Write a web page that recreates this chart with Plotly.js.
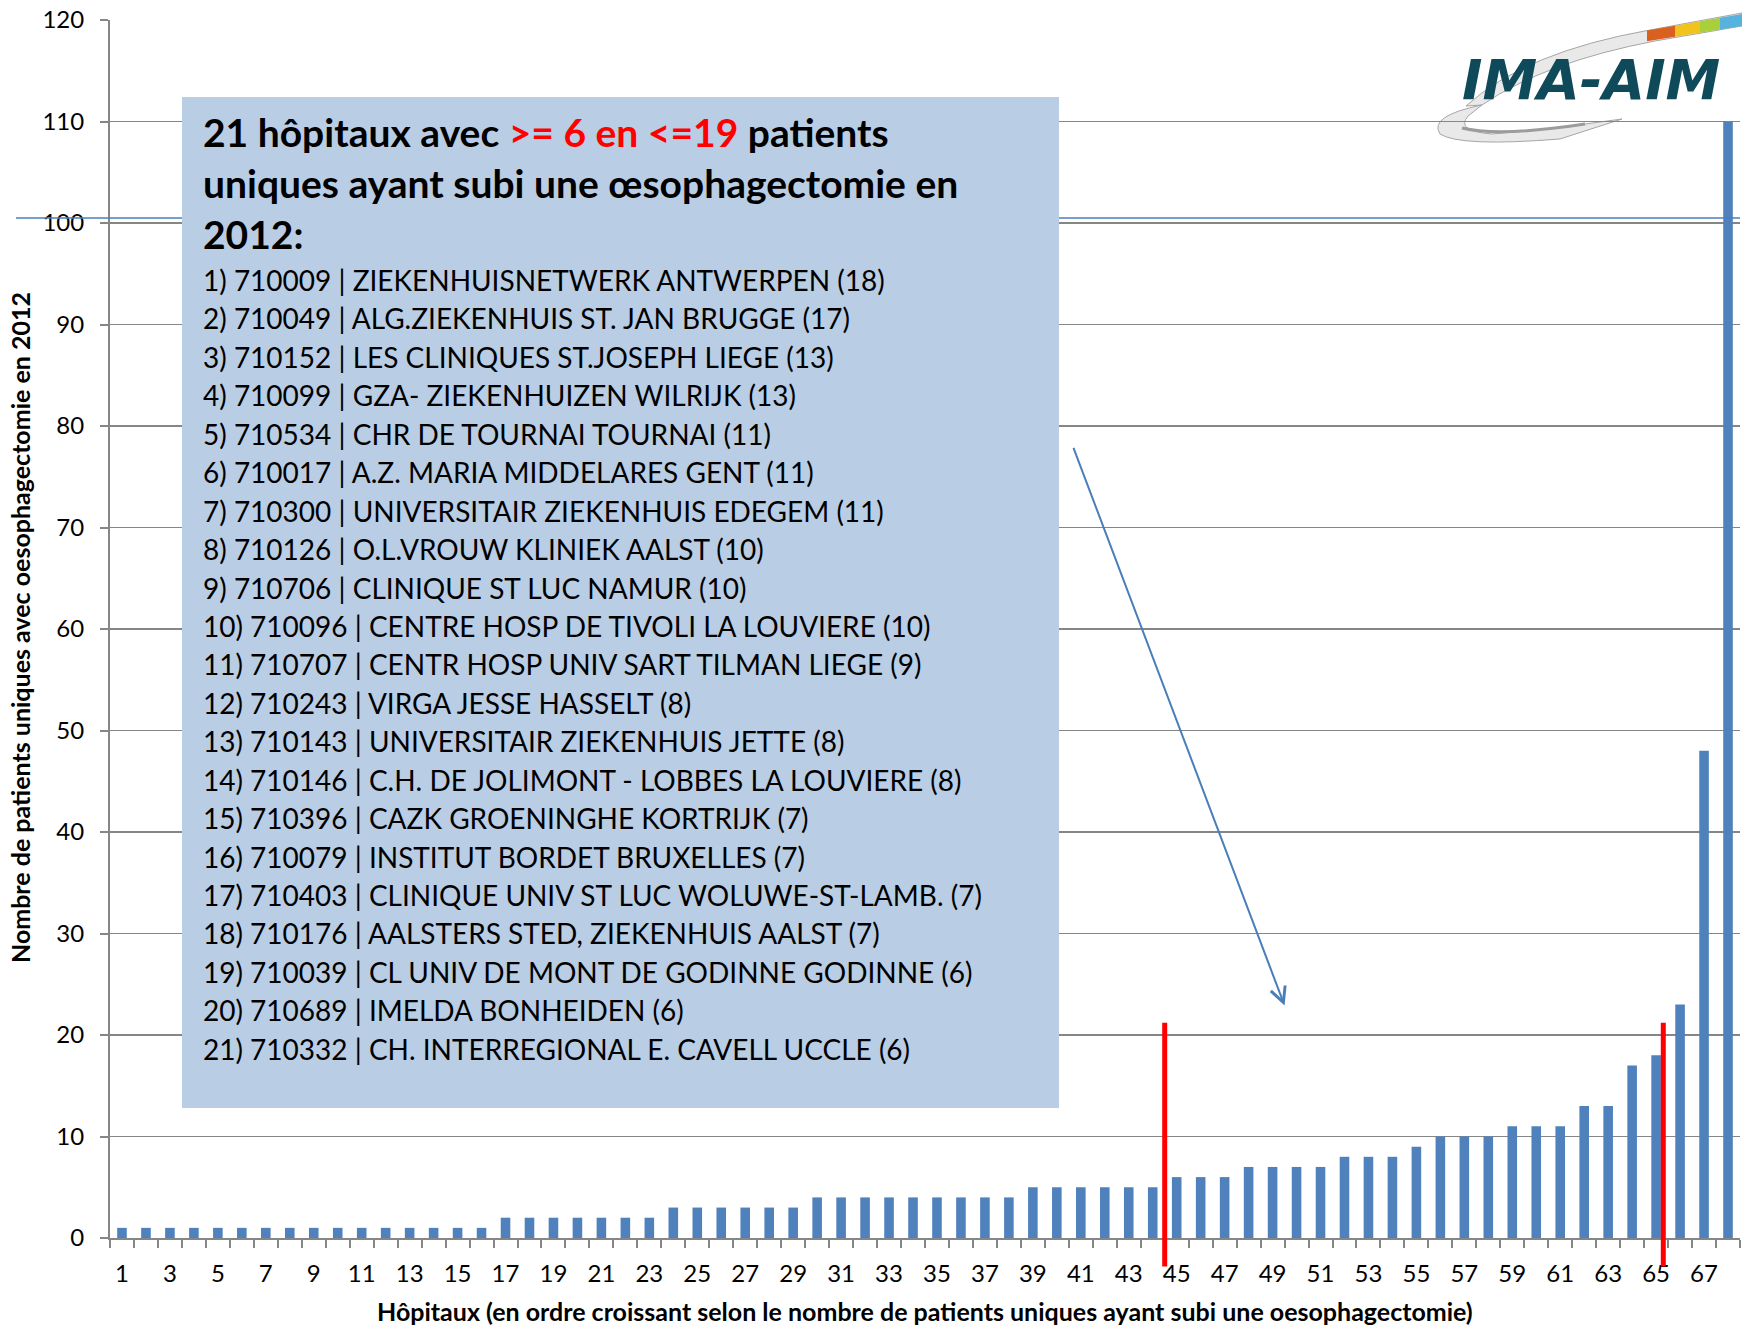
<!DOCTYPE html>
<html>
<head>
<meta charset="utf-8">
<script src="https://cdn.plot.ly/plotly-3.0.1.min.js"></script>
<style>
  html, body { margin: 0; padding: 0; background: #ffffff; }
  #chart { width: 1742px; height: 1325px; }
</style>
</head>
<body>
<div id="chart"></div>
<script>
// ---------------- DATA ----------------
const hospitals = [1,2,3,4,5,6,7,8,9,10,11,12,13,14,15,16,17,18,19,20,21,22,23,24,25,26,27,28,29,30,31,32,33,34,35,36,37,38,39,40,41,42,43,44,45,46,47,48,49,50,51,52,53,54,55,56,57,58,59,60,61,62,63,64,65,66,67,68];
const patients = [1,1,1,1,1,1,1,1,1,1,1,1,1,1,1,1,
                  2,2,2,2,2,2,2,
                  3,3,3,3,3,3,
                  4,4,4,4,4,4,4,4,4,
                  5,5,5,5,5,5,
                  6,6,6,
                  7,7,7,7,
                  8,8,8,
                  9,
                  10,10,10,
                  11,11,11,
                  13,13,
                  17,18,23,48,110];
const xTickVals = [1,3,5,7,9,11,13,15,17,19,21,23,25,27,29,31,33,35,37,39,41,43,45,47,49,51,53,55,57,59,61,63,65,67];
const xTickText = ["1","3","5","7","9","11","13","15","17","19","21","23","25","27","29","31","33","35","37","39","41","43","45","47","49","51","53","55","57","59","61","63","65","67"];

const listCodes = ["710009","710049","710152","710099","710534","710017","710300","710126","710706","710096","710707","710243","710143","710146","710396","710079","710403","710176","710039","710689","710332"];
const listNames = ["ZIEKENHUISNETWERK ANTWERPEN","ALG.ZIEKENHUIS ST. JAN BRUGGE","LES CLINIQUES ST.JOSEPH LIEGE","GZA- ZIEKENHUIZEN WILRIJK","CHR DE TOURNAI TOURNAI","A.Z. MARIA MIDDELARES GENT","UNIVERSITAIR ZIEKENHUIS EDEGEM","O.L.VROUW KLINIEK AALST","CLINIQUE ST LUC NAMUR","CENTRE HOSP DE TIVOLI LA LOUVIERE","CENTR HOSP UNIV SART TILMAN LIEGE","VIRGA JESSE HASSELT","UNIVERSITAIR ZIEKENHUIS JETTE","C.H. DE JOLIMONT - LOBBES LA LOUVIERE","CAZK GROENINGHE KORTRIJK","INSTITUT BORDET BRUXELLES","CLINIQUE UNIV ST LUC WOLUWE-ST-LAMB.","AALSTERS STED, ZIEKENHUIS AALST","CL UNIV DE MONT DE GODINNE GODINNE","IMELDA BONHEIDEN","CH. INTERREGIONAL E. CAVELL UCCLE"];
const listCounts = [18,17,13,13,11,11,11,10,10,10,9,8,8,8,7,7,7,7,6,6,6];

const boxTitleLines = [
  '21 hôpitaux avec <span style="color:#ff0000">&gt;= 6 en &lt;=19</span> patients',
  'uniques ayant subi une œsophagectomie en',
  '2012:'
];
const xTitle = 'Hôpitaux (en ordre croissant selon le nombre de patients uniques ayant subi une oesophagectomie)';
const yTitle = 'Nombre de patients uniques avec oesophagectomie en 2012';
const logoText = 'IMA-AIM';

// ---------------- LAYOUT HELPERS ----------------
const W = 1742, H = 1325;
const PL = 110, PR = 1740, PT = 20, PB = 1238;
const YMAX = 120;
const px = x => (x - PL) / (PR - PL);
const py = y => (PB - y) / (PB - PT);
const yv = v => v / YMAX;
function path(cmds) {
  return cmds.map(c => {
    const op = c[0];
    const pts = [];
    for (let i = 1; i < c.length; i += 2) pts.push(px(c[i]).toFixed(5) + ',' + py(c[i + 1]).toFixed(5));
    return op + pts.join(' ');
  }).join(' ');
}

const FONT = 'Lato, "Open Sans", sans-serif';
const GRID = '#868686';

// ---------------- TRACE ----------------
const traces = [{
  type: 'bar',
  x: hospitals,
  y: patients,
  marker: { color: '#4f81bd', line: { width: 0 } },
  hoverinfo: 'skip'
}];

// ---------------- SHAPES ----------------
const shapes = [];
// logo swoosh (behind gridlines)
shapes.push({
  type: 'path', xref: 'paper', yref: 'paper', layer: 'below',
  path: path([['M',1466,106],['Q',1525,52,1650,30],['L',1742,13],['L',1742,26],['L',1655,41],['Q',1545,62,1482,105],['Z']]),
  fillcolor: '#e9e9e9', line: { color: '#a6a6a6', width: 1 }
});
shapes.push({
  type: 'path', xref: 'paper', yref: 'paper', layer: 'below',
  path: path([['M',1482,105],['Q',1428,116,1440,134],['Q',1460,147,1560,139],['L',1622,119],['Q',1545,130,1492,134],['Q',1455,131,1468,116],['Z']]),
  fillcolor: '#e9e9e9', line: { color: '#a6a6a6', width: 1 }
});
shapes.push({
  type: 'path', xref: 'paper', yref: 'paper', layer: 'below',
  path: path([['M',1462,128],['Q',1500,137,1585,124]]),
  line: { color: '#9c9c9c', width: 3 }
});
const rainbow = [
  [1647,30.5,41.3, 1675,25.7,36.8, '#d9601f'],
  [1675,25.7,36.8, 1700,21.3,32.8, '#f2c21d'],
  [1700,21.3,32.8, 1720,17.8,29.5, '#a9cf3a'],
  [1720,17.8,29.5, 1742,14.0,26.0, '#56b3dd']
];
rainbow.forEach(r => shapes.push({
  type: 'path', xref: 'paper', yref: 'paper', layer: 'below',
  path: path([['M',r[0],r[1]],['L',r[3],r[4]],['L',r[3],r[5]],['L',r[0],r[2]],['Z']]),
  fillcolor: r[6], line: { width: 0 }
}));
// blue horizontal line near 100
shapes.push({
  type: 'line', xref: 'paper', yref: 'y', layer: 'above',
  x0: px(16), x1: 1, y0: 100.5, y1: 100.5,
  line: { color: '#4a7ebb', width: 1.5 }
});
// text box
shapes.push({
  type: 'rect', xref: 'paper', yref: 'paper', layer: 'above',
  x0: px(182), x1: px(1059), y0: py(1108), y1: py(97),
  fillcolor: '#b9cde5', line: { width: 0 }
});
// red separator lines
[44.5, 65.3].forEach(xc => shapes.push({
  type: 'line', xref: 'x', yref: 'paper', layer: 'above',
  x0: xc, x1: xc, y0: yv(-2.8), y1: yv(21.2),
  line: { color: '#ff0000', width: 5 }
}));

// ---------------- ANNOTATIONS ----------------
const annotations = [];
const titleY = [132, 183.5, 234.5];
boxTitleLines.forEach((t, i) => annotations.push({
  xref: 'paper', yref: 'paper', x: px(201), y: py(titleY[i]),
  xanchor: 'left', yanchor: 'middle', showarrow: false, align: 'left',
  text: '<b>' + t + '</b>',
  font: { family: FONT, size: 39, color: '#000000' }
}));
listCodes.forEach((code, i) => annotations.push({
  xref: 'paper', yref: 'paper', x: px(201), y: py(280 + i * 38.44),
  xanchor: 'left', yanchor: 'middle', showarrow: false, align: 'left',
  text: (i + 1) + ') ' + code + ' | ' + listNames[i] + ' (' + listCounts[i] + ')',
  font: { family: FONT, size: 28, color: '#000000' }
}));
// axis titles
annotations.push({
  xref: 'paper', yref: 'paper', x: px(925), y: py(1311),
  xanchor: 'center', yanchor: 'middle', showarrow: false,
  text: '<b>' + xTitle + '</b>',
  font: { family: FONT, size: 25, color: '#000000' }
});
annotations.push({
  xref: 'paper', yref: 'paper', x: px(20), y: py(628),
  xanchor: 'center', yanchor: 'middle', showarrow: false, textangle: -90,
  text: '<b>' + yTitle + '</b>',
  font: { family: FONT, size: 25, color: '#000000' }
});
// arrow
annotations.push({
  xref: 'x', yref: 'y', x: 49.5, y: 22.9,
  axref: 'x', ayref: 'y', ax: 40.67, ay: 78.0,
  text: '', showarrow: true, arrowhead: 5, arrowsize: 1.5, arrowwidth: 2,
  arrowcolor: '#4a7ebb', standoff: 0, startstandoff: 0
});
// logo text
annotations.push({
  xref: 'paper', yref: 'paper', x: px(1460), y: py(80),
  xanchor: 'left', yanchor: 'middle', showarrow: false,
  text: '<b><i>' + logoText + '</i></b>',
  font: { family: '"DejaVu Sans", sans-serif', size: 55, color: '#0e4a5a' }
});

// ---------------- LAYOUT ----------------
const layout = {
  width: W, height: H,
  margin: { l: PL, r: W - PR, t: PT, b: H - PB, pad: 0 },
  paper_bgcolor: '#ffffff',
  plot_bgcolor: 'rgba(0,0,0,0)',
  showlegend: false,
  bargap: 0.6,
  font: { family: FONT, size: 24, color: '#000000' },
  xaxis: {
    type: 'linear', range: [0.5, 68.5], fixedrange: true,
    showgrid: false, zeroline: false,
    showline: true, linecolor: GRID, linewidth: 2,
    tickmode: 'array', tickvals: xTickVals, ticktext: xTickText,
    ticks: '', ticklabelstandoff: 13,
    tickfont: { family: FONT, size: 24, color: '#000000' },
    minor: {
      tickmode: 'array',
      tickvals: hospitals.map(h => h - 0.5).concat([68.5]),
      ticks: 'outside', ticklen: 8, tickwidth: 2, tickcolor: GRID, showgrid: false
    }
  },
  yaxis: {
    range: [0, YMAX], fixedrange: true,
    tickmode: 'linear', tick0: 0, dtick: 10,
    showgrid: true, gridcolor: GRID, gridwidth: 1.5,
    zeroline: false,
    showline: true, linecolor: GRID, linewidth: 2,
    ticks: 'outside', ticklen: 8, tickwidth: 2, tickcolor: GRID,
    ticklabelstandoff: 11,
    tickfont: { family: FONT, size: 24, color: '#000000' }
  },
  shapes: shapes,
  annotations: annotations
};

Plotly.newPlot('chart', traces, layout, { staticPlot: true, displayModeBar: false });
</script>
</body>
</html>
